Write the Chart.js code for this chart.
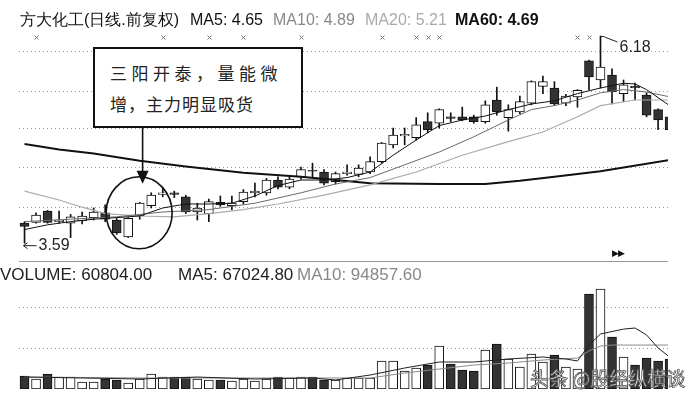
<!DOCTYPE html>
<html>
<head>
<meta charset="utf-8">
<script src="https://cdn.jsdelivr.net/npm/chart.js@4/dist/chart.umd.min.js"></script>
<style>
  body { margin: 0; width: 685px; height: 398px; overflow: hidden; position: relative; background: #fff;
         font-family: "Liberation Sans", Arial, sans-serif; }
  canvas { position: absolute; }
  #price { left: 19px; top: 20px; }
  #vol { left: 19px; top: 262px; }
  .t { position: absolute; white-space: nowrap; line-height: 20px; }
  #sep { position: absolute; left: 19px; top: 261px; width: 649px; height: 1px; background: #999; }
  #note { position: absolute; left: 93px; top: 47px; width: 206px; height: 77px; border: 2px solid #111;
          background: #fff; font-family: "Noto Sans CJK SC", sans-serif; font-size: 17px; color: #222; }
  #note div { position: absolute; left: 15px; white-space: nowrap; line-height: 22px; }
  #mark { position: absolute; left: 530px; top: 364px; font-family: "Noto Sans CJK SC", sans-serif; font-size: 19px;
          color: #fff; -webkit-text-stroke: 0.8px #555; white-space: nowrap; }
</style>
</head>
<body>
<canvas id="price" width="649" height="240"></canvas>
<div id="sep"></div>
<canvas id="vol" width="649" height="127"></canvas>

<div class="t" style="left:20px;top:10px;font-size:16px;color:#111">方大化工(日线.前复权)</div>
<div class="t" style="left:190px;top:10px;font-size:16px;color:#111">MA5: 4.65</div>
<div class="t" style="left:273px;top:10px;font-size:16px;color:#888">MA10: 4.89</div>
<div class="t" style="left:365px;top:10px;font-size:16px;color:#aaa">MA20: 5.21</div>
<div class="t" style="left:455px;top:10px;font-size:16px;color:#111;font-weight:bold">MA60: 4.69</div>

<div class="t" style="left:0px;top:265px;font-size:17px;color:#222">VOLUME: 60804.00</div>
<div class="t" style="left:178px;top:265px;font-size:17px;color:#222">MA5: 67024.80</div>
<div class="t" style="left:297px;top:265px;font-size:17px;color:#888">MA10: 94857.60</div>
<div class="t" style="left:612px;top:243px;font-size:9px;color:#111;letter-spacing:-1px">▶▶</div>

<div id="note">
  <div style="top:13px;letter-spacing:4.5px">三阳开泰，量能微</div>
  <div style="top:44px;letter-spacing:1px">增，主力明显吸货</div>
</div>
<div id="mark">头条 @股经纵横谈</div>

<script>
// daily candles, index 0 = leftmost day
const opens  = [3.84,3.85,3.99,3.86,3.84,3.87,3.91,3.97,3.88,3.67,3.93,4.06,4.20,4.22,4.17,3.98,3.96,4.10,4.06,4.11,
                4.22,4.22,4.38,4.29,4.42,4.50,4.48,4.36,4.46,4.45,4.48,4.61,4.82,4.93,4.91,5.11,5.09,5.17,5.17,5.17,
                5.11,5.38,5.16,5.23,5.34,5.55,5.53,5.34,5.42,5.87,5.63,5.69,5.46,5.55,5.44,5.26,5.17];
const highs  = [3.86,3.97,4.00,3.99,3.95,3.98,4.03,4.07,3.90,3.91,4.10,4.22,4.28,4.24,4.19,4.09,4.14,4.18,4.18,4.26,
                4.34,4.40,4.42,4.42,4.54,4.59,4.51,4.48,4.57,4.57,4.67,4.85,5.03,5.03,5.16,5.22,5.27,5.22,5.29,5.19,
                5.37,5.54,5.32,5.43,5.62,5.68,5.61,5.45,5.51,5.88,6.18,5.77,5.63,5.59,5.47,5.27,5.18];
const lows   = [3.59,3.84,3.84,3.84,3.66,3.83,3.88,3.86,3.70,3.66,3.89,4.03,4.17,4.16,3.96,3.88,3.86,4.05,4.01,4.08,
                4.17,4.19,4.27,4.27,4.39,4.42,4.32,4.33,4.44,4.42,4.46,4.59,4.78,4.82,4.88,4.97,5.03,5.11,5.12,5.09,
                5.09,5.19,4.99,5.21,5.32,5.46,5.31,5.31,5.29,5.51,5.53,5.33,5.36,5.38,5.17,5.01,4.98];
const closes = [3.80,3.94,3.85,3.88,3.92,3.93,3.98,3.89,3.72,3.90,4.09,4.19,4.22,4.20,3.98,4.03,4.11,4.07,4.09,4.23,
                4.24,4.38,4.29,4.39,4.51,4.49,4.34,4.46,4.48,4.53,4.61,4.84,4.94,4.95,5.07,5.01,5.26,5.15,5.13,5.11,
                5.32,5.23,5.26,5.36,5.61,5.61,5.33,5.43,5.50,5.67,5.79,5.48,5.57,5.53,5.19,5.13,5.01];
const volumes = [25400,19500,29300,23400,23400,13700,13700,19500,17600,11700,19500,29300,23400,23400,23400,19500,17600,17600,15600,19500,
                 15600,19500,23400,21500,23400,23400,17600,17600,21500,21500,21500,54600,54600,35100,41000,46800,83900,48800,37100,35100,
                 76100,87800,58500,42900,68300,52700,66300,42900,39000,185300,195000,101400,62400,46800,60500,54600,58500];

// moving averages: [day index, value]
const ma5  = [[0,3.76],[2,3.82],[4,3.86],[6,3.89],[8,3.91],[10,3.93],[12,4.03],[14,4.08],[16,4.08],[18,4.09],[20,4.18],
              [22,4.31],[24,4.38],[26,4.38],[28,4.41],[30,4.48],[32,4.69],[34,4.88],[36,5.06],[38,5.13],[40,5.18],[42,5.26],
              [44,5.33],[46,5.37],[48,5.46],[50,5.53],[52,5.59],[53,5.58],[54,5.51],[55,5.41],[56,5.31]];
const ma10 = [[0,3.86],[4,3.89],[8,3.92],[12,3.98],[16,4.01],[20,4.09],[24,4.22],[27,4.33],[30,4.41],[33,4.57],[36,4.73],
              [39,4.92],[42,5.13],[44,5.26],[46,5.31],[48,5.38],[50,5.47],[52,5.51],[54,5.48],[56,5.42]];
const ma20 = [[0,4.24],[3,4.13],[5,4.04],[7,3.96],[10,3.93],[13,3.92],[16,3.96],[19,4.01],[22,4.08],[26,4.19],[30,4.32],
              [34,4.48],[38,4.69],[42,4.86],[45,4.98],[48,5.17],[50,5.31],[53,5.38],[56,5.38]];
const ma60 = [[0,4.83],[3,4.76],[6,4.71],[10,4.62],[14,4.55],[19,4.47],[24,4.42],[27,4.38],[30,4.34],[36,4.33],[40,4.33],
              [43,4.37],[46,4.42],[50,4.49],[56,4.63]];
const volMa5  = [[0,23400],[5,21500],[10,19500],[15,23400],[20,19500],[25,21500],[27,17600],[30,27300],[33,41000],[36,52700],
                 [39,52700],[42,58600],[45,62500],[47,58600],[48,54700],[49,85900],[50,107400],[52,117000],[53,119100],
                 [54,105500],[55,80100],[56,62500]];
const volMa10 = [[0,23400],[10,21500],[20,21500],[30,21500],[33,31200],[36,39000],[39,46800],[42,50700],[45,56600],
                 [48,60500],[49,74100],[50,83900],[51,85800],[56,85800]];

// days that carry an info mark above the chart
const markDays = [1,12,16,19,24,31,34,35,36,48,49];

const priceGrid = [4.04, 4.53, 5.02, 5.49, 5.98];
const volGrid = [80000, 160000];

const isUp = i => closes[i] >= opens[i];
const days = opens.map((_, i) => i);
const pts = arr => arr.map(([x, y]) => ({x, y}));

const xAxis = {type: "linear", min: -0.48, max: 55.86, display: false, offset: false};
function yAxis(min, max, levels) {
  return {
    min, max, offset: false,
    grid: {color: "#9a9a9a", drawTicks: false},
    border: {display: false, dash: [1, 3]},
    ticks: {display: false},
    afterBuildTicks: s => { s.ticks = levels.map(v => ({value: v})); }
  };
}

const priceMarks = {
  id: "priceMarks",
  afterDatasetsDraw(chart) {
    const {ctx, chartArea} = chart;
    const x = chart.scales.x, y = chart.scales.y;
    ctx.save();
    ctx.strokeStyle = "#777";
    ctx.lineWidth = 1;
    markDays.forEach(i => {
      const px = Math.round(x.getPixelForValue(i)) + 0.5, py = chartArea.top + 17.5;
      ctx.beginPath();
      ctx.moveTo(px - 2, py - 2); ctx.lineTo(px + 2, py + 2);
      ctx.moveTo(px + 2, py - 2); ctx.lineTo(px - 2, py + 2);
      ctx.stroke();
    });

    ctx.strokeStyle = "#222";
    ctx.fillStyle = "#222";
    ctx.font = "16px 'Liberation Sans', Arial, sans-serif";
    ctx.textBaseline = "middle";

    // highest high
    const hi = highs.indexOf(Math.max(...highs));
    let px = x.getPixelForValue(hi), py = y.getPixelForValue(highs[hi]);
    ctx.beginPath();
    ctx.moveTo(px, py + 0.5); ctx.lineTo(px + 4, py + 0.5);
    ctx.moveTo(px + 4, py + 1); ctx.lineTo(px + 17, py + 6);
    ctx.stroke();
    ctx.fillText(highs[hi].toFixed(2), px + 19, py + 12);

    // lowest low
    const lo = lows.indexOf(Math.min(...lows));
    px = x.getPixelForValue(lo); py = y.getPixelForValue(lows[lo]);
    ctx.beginPath();
    ctx.moveTo(px - 1, py + 2.5); ctx.lineTo(px + 12, py + 2.5);
    ctx.moveTo(px + 3, py - 0.5); ctx.lineTo(px - 1, py + 2.5); ctx.lineTo(px + 3, py + 5.5);
    ctx.stroke();
    ctx.fillText(lows[lo].toFixed(2), px + 14, py + 2);

    // circle round the three white candles and the arrow from the note
    const cx = x.getPixelForValue(9.95), cy = y.getPixelForValue(3.97);
    ctx.strokeStyle = "#111";
    ctx.fillStyle = "#111";
    ctx.lineWidth = 1.6;
    ctx.beginPath();
    ctx.ellipse(cx, cy, 33, 36, 0, 0, Math.PI * 2);
    ctx.stroke();
    const ax = x.getPixelForValue(10.25), tip = cy - 29;
    ctx.beginPath();
    ctx.moveTo(ax, 108); ctx.lineTo(ax, tip - 10);
    ctx.stroke();
    ctx.beginPath();
    ctx.moveTo(ax - 6, tip - 13); ctx.lineTo(ax + 6, tip - 13); ctx.lineTo(ax, tip);
    ctx.closePath();
    ctx.fill();
    ctx.restore();
  }
};

new Chart(document.getElementById("price"), {
  type: "bar",
  data: {
    datasets: [
      {label: "MA5", type: "line", data: pts(ma5), borderColor: "#111", borderWidth: 1, pointRadius: 0, order: 0},
      {label: "MA10", type: "line", data: pts(ma10), borderColor: "#6a6a6a", borderWidth: 1, pointRadius: 0, order: 0},
      {label: "MA20", type: "line", data: pts(ma20), borderColor: "#ababab", borderWidth: 1.2, pointRadius: 0, order: 0},
      {label: "MA60", type: "line", data: pts(ma60), borderColor: "#111", borderWidth: 2, pointRadius: 0, order: 0},
      {label: "body", data: days.map(i => ({x: i, y: [opens[i], closes[i]]})),
       backgroundColor: days.map(i => isUp(i) ? "#fff" : "#333"), borderColor: "#111", borderWidth: 1,
       borderSkipped: false, barThickness: 9, grouped: false, order: 2},
      {label: "wick", data: days.map(i => ({x: i, y: [lows[i], highs[i]]})),
       backgroundColor: "#111", barThickness: 1, grouped: false, order: 3}
    ]
  },
  options: {
    responsive: false,
    animation: false,
    layout: {padding: 0},
    plugins: {legend: {display: false}, tooltip: {enabled: false}},
    scales: {x: xAxis, y: yAxis(3.38, 6.38, priceGrid)}
  },
  plugins: [priceMarks]
});

new Chart(document.getElementById("vol"), {
  type: "bar",
  data: {
    datasets: [
      {label: "VMA5", type: "line", data: pts(volMa5), borderColor: "#222", borderWidth: 1, pointRadius: 0, order: 0},
      {label: "VMA10", type: "line", data: pts(volMa10), borderColor: "#8a8a8a", borderWidth: 1, pointRadius: 0, order: 0},
      {label: "VOLUME", data: days.map(i => ({x: i, y: volumes[i]})),
       backgroundColor: days.map(i => isUp(i) ? "#fff" : "#333"), borderColor: "#111", borderWidth: 1,
       borderSkipped: false, barThickness: 9, grouped: false, order: 2}
    ]
  },
  options: {
    responsive: false,
    animation: false,
    layout: {padding: 0},
    plugins: {legend: {display: false}, tooltip: {enabled: false}},
    scales: {x: xAxis, y: yAxis(0, 248000, volGrid)}
  }
});
</script>
</body>
</html>
